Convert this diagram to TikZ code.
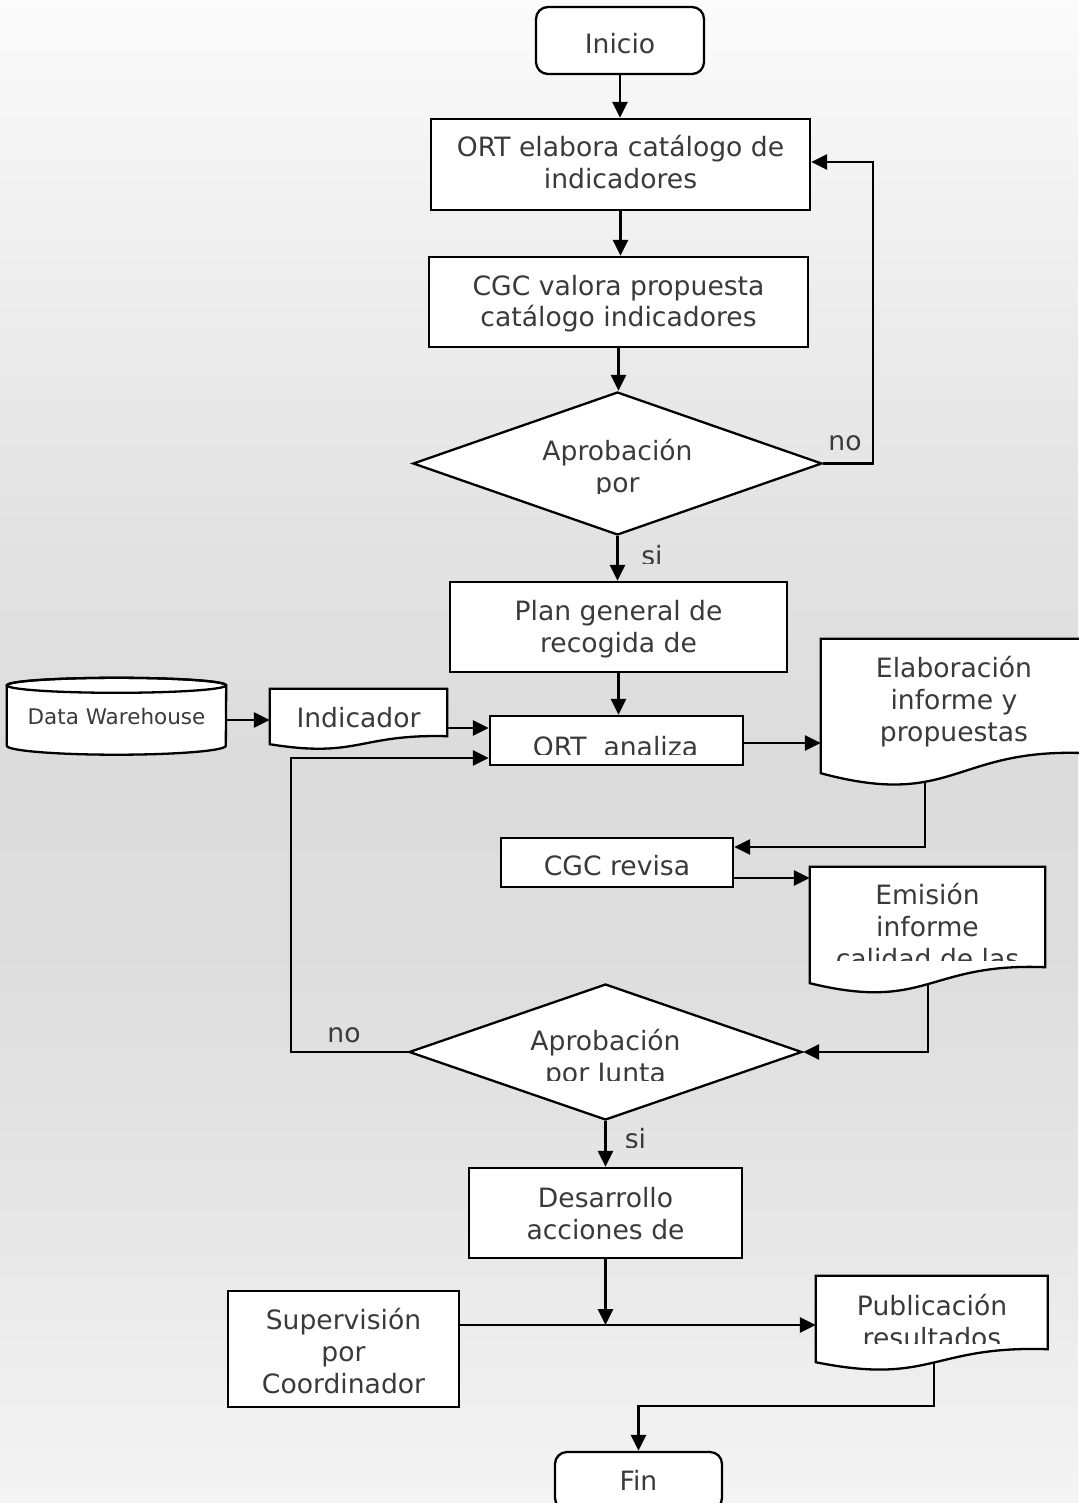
\documentclass[tikz,border=0pt]{standalone}
\usepackage{fontspec}
\setmainfont{DejaVu Sans}
\usetikzlibrary{arrows.meta,shapes.geometric,calc}
\definecolor{ink}{HTML}{3A3A3A}
\definecolor{bgA}{HTML}{FBFBFB}
\definecolor{bgB}{HTML}{EFEFEF}
\definecolor{bgC}{HTML}{E4E4E4}
\definecolor{bgD}{HTML}{DCDCDC}
\definecolor{bgE}{HTML}{DDDDDD}
\definecolor{bgF}{HTML}{E6E6E6}
\definecolor{bgG}{HTML}{F4F4F4}
\pgfdeclarelayer{bgl}
\pgfdeclarelayer{wires}
\pgfdeclarelayer{docs}
\pgfsetlayers{bgl,wires,docs,main}
% extra height above the first line / depth below the last line of a label
\newcommand\tpad[1]{\rule{0pt}{#1pt}}
\newcommand\bpad[1]{\rule[-#1pt]{0pt}{#1pt}}
% document symbol drawn around a node: #1 node, #2 rise of the wavy bottom
\newcommand\docoutline[2]{%
  \begin{pgfonlayer}{docs}
    \filldraw[outline] (#1.north west) -- (#1.north east)
      -- ($(#1.south east)+(0,-#2)$)
      .. controls ($(#1.south)+(0,-1.3*#2)$) and ($(#1.south)+(0,1.8*#2)$) .. (#1.south west)
      -- cycle;
  \end{pgfonlayer}}
% text cut off below a given height: #1 name, #2 x, #3 y, #4 lower limit, #5 text
\newcommand\clippedtext[5]{%
  \begin{scope}
    \clip (#2-260,#3-130) rectangle (#2+260,#4);
    \node[lbl] (#1) at (#2,#3) {#5};
  \end{scope}}
\begin{document}
\begin{tikzpicture}[x=1pt,y=-1pt,
  outline/.style={draw=black, line width=2.3pt, fill=white},
  txtfont/.style={font=\fontsize{26.6}{32}\selectfont},
  shp/.style={outline, inner sep=0pt, text=ink, txtfont, align=center},
  proc/.style={shp, rectangle},
  term/.style={shp, rectangle, rounded corners=12pt},
  dec/.style={shp, diamond},
  doc/.style={rectangle, inner sep=0pt, text=ink, txtfont, align=center},
  lbl/.style={inner sep=0pt, text=ink, txtfont, align=center},
  wire/.style={line width=2.8pt},
  conn/.style={wire, -{Triangle[length=16pt,width=15pt]}},
]
% background
\begin{pgfonlayer}{bgl}
  \shade[top color=bgA, bottom color=bgB] (0,0) rectangle (1078,251);
  \shade[top color=bgB, bottom color=bgC] (0,250) rectangle (1078,501);
  \shade[top color=bgC, bottom color=bgD] (0,500) rectangle (1078,751);
  \shade[top color=bgD, bottom color=bgE] (0,750) rectangle (1078,951);
  \shade[top color=bgE, bottom color=bgF] (0,950) rectangle (1078,1201);
  \shade[top color=bgF, bottom color=bgG] (0,1200) rectangle (1078,1503);
\end{pgfonlayer}
\useasboundingbox (0,0) rectangle (1078,1503);

% process steps
\node[term, minimum width=168pt, minimum height=67pt] (inicio) at (620,40.5) {\strut\tpad{36.6}Inicio};
\node[proc, minimum width=379pt, minimum height=91pt] (ort) at (620.5,164.5)
  {\strut\tpad{26.6}ORT elabora catálogo de\\\strut indicadores};
\node[proc, minimum width=379pt, minimum height=90pt] (cgc) at (618.5,302)
  {\strut\tpad{27.6}CGC valora propuesta\\\strut catálogo indicadores};
\node[dec, minimum width=409pt, minimum height=143pt] (d1) at (617.5,463.5) {};
\node[proc, minimum width=337pt, minimum height=90pt] (plan) at (618.5,627)
  {\strut\tpad{27.6}Plan general de\\\strut recogida de};
\node[proc, minimum width=253pt, minimum height=49pt] (analiza) at (616.5,740.5) {};
\node[doc, minimum width=219pt, minimum height=60pt, font=\fontsize{21.5}{26}\selectfont] (dw) at (116.5,715.5)
  {\strut\tpad{25.8}Data Warehouse};
\node[doc, minimum width=177pt, minimum height=55pt] (ind) at (358.5,716.5) {\strut\tpad{30.6}Indicador};
\node[doc, minimum width=266pt, minimum height=134pt] (elab) at (954,706)
  {\strut Elaboración\\\strut informe y\\\strut\bpad{16.4}propuestas};
\node[proc, minimum width=232pt, minimum height=49pt] (revisa) at (617,862.5) {\strut\tpad{34.6}CGC revisa};
\node[doc, minimum width=235pt, minimum height=116pt] (emis) at (927.5,925) {};
\node[dec, minimum width=393pt, minimum height=136pt] (d2) at (605.5,1052) {};
\node[proc, minimum width=273pt, minimum height=90pt] (des) at (605.5,1213)
  {\strut\tpad{29.6}Desarrollo\\\strut acciones de};
\node[proc, minimum width=231pt, minimum height=116pt] (sup) at (343.5,1349)
  {\strut\tpad{33.6}Supervisión\\\strut por\\\strut Coordinador};
\node[doc, minimum width=231.5pt, minimum height=86pt] (pub) at (931.75,1319) {};
\node[term, minimum width=167pt, minimum height=58pt] (fin) at (638.5,1481) {\strut\tpad{27.6}Fin};

% database cylinder
\begin{pgfonlayer}{docs}
  \filldraw[outline] (dw.north west) -- (dw.south west)
    arc[start angle=180, end angle=360, x radius=109.5pt, y radius=9pt]
    -- (dw.north east)
    arc[start angle=0, end angle=180, x radius=109.5pt, y radius=7.5pt] -- cycle;
  \draw[outline, fill=none] (dw.north) ellipse[x radius=109.5pt, y radius=7.5pt];
\end{pgfonlayer}

% document symbols
\docoutline{ind}{8}
\docoutline{elab}{20}
\docoutline{emis}{16}
\docoutline{pub}{13}

% texts that run past their text block
\clippedtext{d1t}{617.5}{469.6}{493}{\strut Aprobación\\\strut por}
\clippedtext{analizat}{615.5}{749.6}{754}{\strut ORT\ \ analiza}
\clippedtext{emist}{927.5}{929.6}{960}{\strut Emisión\\\strut informe\\\strut calidad de las}
\clippedtext{d2t}{605.5}{1059.6}{1080}{\strut Aprobación\\\strut por Junta}
\clippedtext{pubt}{932}{1324.6}{1343}{\strut Publicación\\\strut resultados}
\clippedtext{si1}{652}{558.6}{563}{\strut si}
\clippedtext{si2}{635.5}{1141.6}{1147}{\strut si}
\node[lbl] (no1) at (845,443.6) {\strut no};
\node[lbl] (no2) at (344,1035.6) {\strut no};

% connectors
\begin{pgfonlayer}{wires}
  \draw[conn] (inicio.south) -- (inicio.south |- ort.north);
  \draw[conn] (ort.south) -- (ort.south |- cgc.north);
  \draw[conn] (cgc.south) -- (cgc.south |- d1.north);
  \coordinate (r1) at (873,162);
  \draw[conn] (d1.east) -| (r1) -- (ort.east |- r1);
  \draw[conn] (d1.south) -- (d1.south |- plan.north);
  \draw[conn] (plan.south) -- (plan.south |- analiza.north);
  \coordinate (h1) at (0,720);
  \draw[conn] (dw.east |- h1) -- (ind.west |- h1);
  \coordinate (h2) at (0,728);
  \draw[conn] (ind.east |- h2) -- (analiza.west |- h2);
  \coordinate (h3) at (0,743);
  \draw[conn] (analiza.east |- h3) -- (elab.west |- h3);
  \coordinate (v1) at (925,847);
  \draw[conn] (elab.south -| v1) -- (v1) -- (revisa.east |- v1);
  \coordinate (h4) at (0,878);
  \draw[conn] (revisa.east |- h4) -- (emis.west |- h4);
  \coordinate (v2) at (928,1052);
  \draw[conn] (emis.south -| v2) -- (v2) -- (d2.east);
  \coordinate (l2) at (291,758);
  \draw[conn] (d2.west) -| (l2) -- (analiza.west |- l2);
  \draw[conn] (d2.south) -- (d2.south |- des.north);
  \coordinate (j) at (605.5,1325);
  \draw[conn] (des.south) -- (j);
  \draw[conn] (sup.east |- j) -- (pub.west |- j);
  \coordinate (p1) at (934,1406);
  \draw[conn] (pub.south -| p1) -- (p1) -| (fin.north);
\end{pgfonlayer}
\end{tikzpicture}
\end{document}
